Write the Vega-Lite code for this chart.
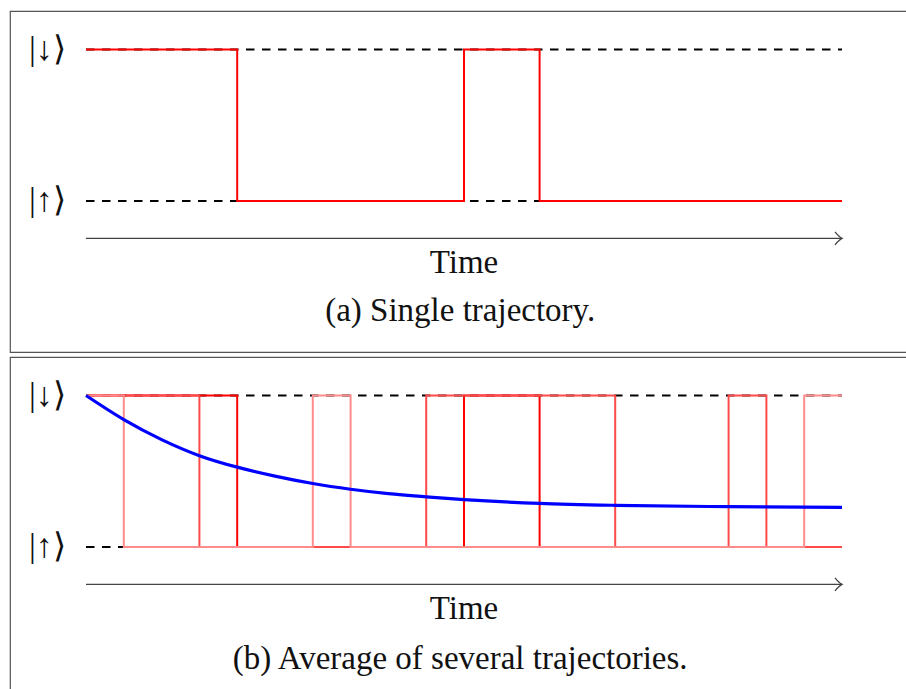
{
  "$schema": "https://vega.github.io/schema/vega-lite/v6.json",
  "padding": {"left": 9, "top": 10, "right": 0, "bottom": 0},
  "spacing": 3,
  "background": "white",
  "config": {"view": {"stroke": "#555", "strokeWidth": 1.2}},
  "datasets": {
    "levels": [{"t0": 0, "t1": 20, "v": 0}, {"t0": 0, "t1": 20, "v": 1}],
    "axisline": [{"t0": 0, "t1": 20, "v": -0.247}],
    "arrowhead": [{"t": 20, "v": -0.247}],
    "kets": [{"t": -1.02, "v": 1, "label": "|↓⟩"}, {"t": -1.02, "v": 0, "label": "|↑⟩"}],
    "textA": [{"t": 10, "v": -0.475, "label": "Time"}, {"t": 9.9, "v": -0.792, "label": "(a) Single trajectory."}],
    "textB": [{"t": 10, "v": -0.472, "label": "Time"}, {"t": 9.9, "v": -0.803, "label": "(b) Average of several trajectories."}],
    "traj": [
      {"id": "A", "t": 0, "v": 1}, {"id": "A", "t": 4, "v": 0}, {"id": "A", "t": 10, "v": 1}, {"id": "A", "t": 12, "v": 0}, {"id": "A", "t": 20, "v": 0},
      {"id": "B", "t": 0, "v": 1}, {"id": "B", "t": 1, "v": 0}, {"id": "B", "t": 6, "v": 1}, {"id": "B", "t": 7, "v": 0}, {"id": "B", "t": 19, "v": 1}, {"id": "B", "t": 20, "v": 1},
      {"id": "C", "t": 0, "v": 1}, {"id": "C", "t": 3, "v": 0}, {"id": "C", "t": 9, "v": 1}, {"id": "C", "t": 14, "v": 0}, {"id": "C", "t": 17, "v": 1}, {"id": "C", "t": 18, "v": 0}, {"id": "C", "t": 20, "v": 0}
    ],
    "avg": [
      {"t": 0, "v": 1.0}, {"t": 1, "v": 0.841}, {"t": 2, "v": 0.709}, {"t": 3, "v": 0.603}, {"t": 4, "v": 0.527},
      {"t": 5, "v": 0.468}, {"t": 6, "v": 0.419}, {"t": 7, "v": 0.381}, {"t": 8, "v": 0.352}, {"t": 9, "v": 0.331},
      {"t": 10, "v": 0.313}, {"t": 12, "v": 0.288}, {"t": 14, "v": 0.275}, {"t": 17, "v": 0.266}, {"t": 20, "v": 0.261}
    ]
  },
  "vconcat": [
    {
      "width": 897,
      "height": 341,
      "layer": [
        {
          "data": {"name": "levels"},
          "mark": {"type": "rule", "strokeDash": [8.5, 7.5], "strokeWidth": 2, "color": "#000000"},
          "encoding": {
            "x": {"field": "t0", "type": "quantitative", "scale": {"domain": [0, 20], "range": [76, 832]}, "axis": null},
            "x2": {"field": "t1"},
            "y": {"field": "v", "type": "quantitative", "scale": {"domain": [0, 1], "range": [190, 38.5]}, "axis": null}
          }
        },
        {
          "data": {"name": "traj"},
          "transform": [{"filter": "datum.id === 'A'"}],
          "mark": {"type": "line", "interpolate": "step-after", "strokeWidth": 2, "color": "#ff0000"},
          "encoding": {
            "x": {"field": "t", "type": "quantitative"},
            "y": {"field": "v", "type": "quantitative"}
          }
        },
        {
          "data": {"name": "axisline"},
          "mark": {"type": "rule", "strokeWidth": 1.3, "color": "#444444"},
          "encoding": {
            "x": {"field": "t0", "type": "quantitative"},
            "x2": {"field": "t1"},
            "y": {"field": "v", "type": "quantitative"}
          }
        },
        {
          "data": {"name": "arrowhead"},
          "mark": {"type": "point", "shape": "M-1,-0.93 Q-0.4,-0.2 0,0 Q-0.4,0.2 -1,0.93", "filled": false, "size": 196, "strokeWidth": 1.3, "color": "#444444", "opacity": 1},
          "encoding": {
            "x": {"field": "t", "type": "quantitative"},
            "y": {"field": "v", "type": "quantitative"}
          }
        },
        {
          "data": {"name": "kets"},
          "mark": {"type": "text", "font": "Liberation Serif", "fontSize": 34, "baseline": "middle", "align": "center", "color": "#111111"},
          "encoding": {
            "x": {"field": "t", "type": "quantitative"},
            "y": {"field": "v", "type": "quantitative"},
            "text": {"field": "label"}
          }
        },
        {
          "data": {"name": "textA"},
          "mark": {"type": "text", "font": "Liberation Serif", "fontSize": 33, "baseline": "alphabetic", "align": "center", "color": "#111111"},
          "encoding": {
            "x": {"field": "t", "type": "quantitative"},
            "y": {"field": "v", "type": "quantitative"},
            "text": {"field": "label"}
          }
        }
      ]
    },
    {
      "width": 897,
      "height": 335,
      "layer": [
        {
          "data": {"name": "levels"},
          "mark": {"type": "rule", "strokeDash": [8.5, 7.5], "strokeWidth": 2, "color": "#000000"},
          "encoding": {
            "x": {"field": "t0", "type": "quantitative", "scale": {"domain": [0, 20], "range": [76, 832]}, "axis": null},
            "x2": {"field": "t1"},
            "y": {"field": "v", "type": "quantitative", "scale": {"domain": [0, 1], "range": [190, 38.5]}, "axis": null}
          }
        },
        {
          "data": {"name": "traj"},
          "transform": [{"filter": "datum.id === 'A'"}],
          "mark": {"type": "line", "interpolate": "step-after", "strokeWidth": 2, "color": "#ff0000"},
          "encoding": {
            "x": {"field": "t", "type": "quantitative"},
            "y": {"field": "v", "type": "quantitative"}
          }
        },
        {
          "data": {"name": "traj"},
          "transform": [{"filter": "datum.id === 'C'"}],
          "mark": {"type": "line", "interpolate": "step-after", "strokeWidth": 2, "color": "#ff4a4a"},
          "encoding": {
            "x": {"field": "t", "type": "quantitative"},
            "y": {"field": "v", "type": "quantitative"}
          }
        },
        {
          "data": {"name": "traj"},
          "transform": [{"filter": "datum.id === 'B'"}],
          "mark": {"type": "line", "interpolate": "step-after", "strokeWidth": 2, "color": "#ff8c8c"},
          "encoding": {
            "x": {"field": "t", "type": "quantitative"},
            "y": {"field": "v", "type": "quantitative"}
          }
        },
        {
          "data": {"name": "avg"},
          "mark": {"type": "line", "interpolate": "monotone", "strokeWidth": 3.2, "color": "#0000ff"},
          "encoding": {
            "x": {"field": "t", "type": "quantitative"},
            "y": {"field": "v", "type": "quantitative"}
          }
        },
        {
          "data": {"name": "axisline"},
          "mark": {"type": "rule", "strokeWidth": 1.3, "color": "#444444"},
          "encoding": {
            "x": {"field": "t0", "type": "quantitative"},
            "x2": {"field": "t1"},
            "y": {"field": "v", "type": "quantitative"}
          }
        },
        {
          "data": {"name": "arrowhead"},
          "mark": {"type": "point", "shape": "M-1,-0.93 Q-0.4,-0.2 0,0 Q-0.4,0.2 -1,0.93", "filled": false, "size": 196, "strokeWidth": 1.3, "color": "#444444", "opacity": 1},
          "encoding": {
            "x": {"field": "t", "type": "quantitative"},
            "y": {"field": "v", "type": "quantitative"}
          }
        },
        {
          "data": {"name": "kets"},
          "mark": {"type": "text", "font": "Liberation Serif", "fontSize": 34, "baseline": "middle", "align": "center", "color": "#111111"},
          "encoding": {
            "x": {"field": "t", "type": "quantitative"},
            "y": {"field": "v", "type": "quantitative"},
            "text": {"field": "label"}
          }
        },
        {
          "data": {"name": "textB"},
          "mark": {"type": "text", "font": "Liberation Serif", "fontSize": 33, "baseline": "alphabetic", "align": "center", "color": "#111111"},
          "encoding": {
            "x": {"field": "t", "type": "quantitative"},
            "y": {"field": "v", "type": "quantitative"},
            "text": {"field": "label"}
          }
        }
      ]
    }
  ]
}
